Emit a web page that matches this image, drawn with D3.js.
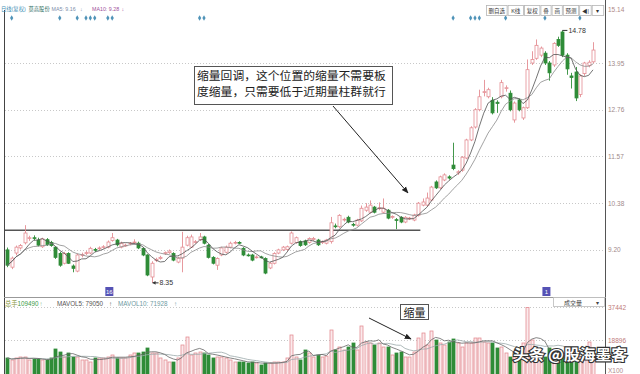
<!doctype html>
<html lang="zh">
<head>
<meta charset="utf-8">
<title>莫高股份 日线(复权)</title>
<style>
body{margin:0;background:#fff;}
svg{display:block;font-family:"Liberation Sans","Noto Sans CJK SC",sans-serif;}
</style>
<script src="https://d3js.org/d3.v7.min.js"></script>
</head>
<body>
<div id="chart"></div>
<script>
// daily candles (price units)
var opens = [9.19,8.75,9.11,9.24,9.37,9.48,9.50,9.44,9.27,9.45,9.38,9.26,9.10,8.85,9.10,8.78,8.65,9.05,9.10,9.11,
  9.20,9.22,9.25,9.26,9.43,9.44,9.26,9.30,9.35,9.38,9.36,9.23,9.06,8.50,8.92,8.97,9.10,9.12,9.10,8.88,
  8.98,9.31,9.26,9.38,9.45,9.52,9.31,9.00,8.80,9.06,9.13,9.26,9.36,9.38,9.23,9.06,9.06,9.00,9.01,8.97,
  8.73,8.85,9.11,9.19,9.20,9.36,9.38,9.40,9.42,9.38,9.45,9.44,9.38,9.36,9.40,9.80,9.78,9.95,10.02,9.84,
  9.82,9.93,10.20,10.15,10.28,10.24,10.15,10.20,10.02,9.96,10.02,9.90,9.98,9.95,10.07,10.33,10.33,10.46,10.92,10.77,
  10.97,11.05,11.35,11.15,11.22,11.53,11.99,12.32,12.76,13.20,13.09,13.00,12.95,13.09,13.30,13.18,12.50,13.01,12.55,12.81,
  13.95,14.07,14.15,14.20,13.95,13.90,14.55,14.74,14.15,13.62,13.72,13.15,13.68,13.88,13.98];
var highs = [9.25,9.02,9.30,9.34,9.82,9.55,9.56,9.50,9.50,9.49,9.42,9.28,9.14,9.14,9.13,8.82,9.10,9.12,9.16,9.27,
  9.24,9.28,9.31,9.43,9.62,9.47,9.40,9.35,9.39,9.46,9.40,9.25,9.08,8.90,8.99,9.04,9.15,9.20,9.13,9.02,
  9.65,9.55,9.58,9.44,9.62,9.55,9.34,9.03,9.00,9.27,9.30,9.40,9.42,9.41,9.26,9.10,9.09,9.05,9.04,9.00,
  8.88,9.13,9.22,9.29,9.30,9.66,9.53,9.43,9.45,9.51,9.52,9.47,9.43,9.47,10.03,9.86,10.10,10.01,10.06,9.88,
  9.98,10.32,10.38,10.45,10.31,10.40,10.50,10.23,10.07,10.00,10.05,10.05,10.03,10.11,10.41,10.50,10.65,10.82,10.96,11.08,
  11.14,11.09,11.92,11.22,11.58,12.02,12.34,12.80,13.27,13.52,13.32,13.08,13.00,13.52,13.38,13.25,12.97,13.05,12.84,14.04,
  14.25,14.55,14.37,14.25,14.00,14.48,14.62,14.78,14.20,13.70,13.85,13.66,13.98,14.02,14.48];
var lows = [8.75,8.70,9.05,9.20,9.33,9.42,9.44,9.28,9.24,9.29,9.27,8.96,8.76,8.82,8.83,8.62,8.62,9.00,9.06,9.08,
  9.14,9.18,9.22,9.23,9.40,9.28,9.23,9.27,9.31,9.34,9.21,9.03,8.52,8.35,8.88,8.94,9.06,9.09,8.90,8.85,
  8.62,9.28,9.24,9.35,9.42,9.33,8.97,8.82,8.68,9.03,9.10,9.23,9.33,9.34,9.03,9.02,8.90,8.97,8.97,8.57,
  8.70,8.82,9.08,9.16,9.17,9.33,9.35,9.27,9.29,9.35,9.42,9.29,9.34,9.33,9.35,9.74,9.75,9.91,9.87,9.78,
  9.79,9.90,10.16,10.12,10.12,10.20,10.12,9.97,9.98,9.72,9.87,9.87,9.95,9.92,10.04,10.30,10.30,10.43,10.74,10.74,
  10.94,10.98,11.22,11.10,11.18,11.50,11.96,12.28,12.72,13.10,13.05,12.64,12.68,13.05,13.22,12.72,12.43,12.72,12.50,12.78,
  13.90,14.03,14.10,13.90,13.50,13.85,14.36,14.10,13.65,13.30,12.98,13.08,13.62,13.84,13.94];
var closes = [8.80,8.98,9.26,9.30,9.62,9.50,9.48,9.31,9.47,9.32,9.30,9.00,8.80,9.10,8.85,8.72,9.06,9.07,9.12,9.23,
  9.18,9.24,9.27,9.39,9.50,9.32,9.36,9.31,9.36,9.39,9.24,9.06,8.55,8.85,8.95,9.00,9.12,9.16,8.93,8.98,
  9.26,9.50,9.52,9.40,9.52,9.36,9.00,8.85,8.97,9.24,9.26,9.36,9.38,9.37,9.06,9.05,8.93,9.01,9.00,8.60,
  8.85,9.10,9.19,9.26,9.27,9.62,9.50,9.30,9.32,9.48,9.48,9.32,9.40,9.44,9.88,9.78,10.07,9.97,9.90,9.82,
  9.95,10.25,10.28,10.33,10.15,10.26,10.25,10.00,10.04,9.94,9.90,10.02,10.00,10.08,10.38,10.41,10.51,10.79,10.77,11.05,
  11.10,11.02,11.26,11.18,11.55,11.99,12.30,12.76,13.09,13.22,13.27,12.68,12.92,13.45,13.32,12.76,12.93,12.76,12.81,13.78,
  14.04,14.40,14.33,13.95,13.70,14.45,14.40,14.15,13.80,13.58,13.06,13.62,13.95,13.97,14.28];
// volume in lots
var volumes = [9000,7870,9000,9550,9550,7870,8400,8400,7870,7870,9000,14050,12360,9550,11800,9550,9550,7870,7870,6740,
  9000,9000,9000,9550,10680,9000,9000,9000,10680,11800,11800,12360,14610,11800,11800,9000,7870,6740,6740,9000,
  16300,20790,10680,11800,12360,11800,10680,9000,9550,9550,9000,7870,6740,6740,6740,6180,6740,6180,5060,6180,
  6180,6740,6740,6740,9000,21920,9550,7870,13490,11800,9550,10680,9550,10100,24730,13490,15170,13490,15170,17420,
  13490,26980,17980,17420,16300,17420,15170,15170,10680,11800,12360,9550,9550,12360,20230,23040,16300,24170,19110,17420,
  16300,17980,19670,17420,15170,17420,17420,20230,20230,17980,17420,17420,14610,15170,11800,9550,9550,14610,17420,37442,
  19110,13490,12360,9550,14610,9550,13490,10680,9550,10680,9000,9550,9000,17980,9550];

var priceTicks = [13.95, 12.76, 11.57, 10.38, 9.20];
var topPrice = 15.14;
var volTicks = [37442, 18896];
var signalIdx = [1, 12, 16, 18, 19, 20, 23, 24, 44, 45, 102, 106, 107, 108, 114, 123, 131];
var dateMarks = [23, 123];
var dateLabels = ["16", "1"];
var supportPrice = 9.69, supportEnd = 94.5;
var highIdx = 127, lowIdx = 33;
var toolButtons = ["删自选", "K线", "复权", "叠", "画", "预测", "◀|", "▾"];

var upColor = "#e48d93", downColor = "#2f8c38";

var svg = d3.select("#chart").append("svg").attr("width", 640).attr("height", 374);
svg.append("rect").attr("width", 640).attr("height", 374).attr("fill", "#fff");

var N = closes.length;
var idx = d3.range(N);
var x = d3.scaleLinear().domain([0, N - 1]).range([7.3, 593]);
var y = d3.scaleLinear().domain([9.20, 13.95]).range([249.5, 63]);
var yv = d3.scaleLinear().domain([0, 37442]).range([374, 307.4]);

function movingAvg(vals, n) {
  return vals.map(function(v, i) { return d3.mean(vals.slice(Math.max(0, i - n + 1), i + 1)); });
}

// grid lines
svg.append("g").selectAll("line").data(priceTicks).join("line")
  .attr("x1", 5).attr("x2", 605)
  .attr("y1", function(d) { return Math.round(y(d)) + 0.5; })
  .attr("y2", function(d) { return Math.round(y(d)) + 0.5; })
  .attr("stroke", "#c8c8c8").attr("stroke-dasharray", "1,2");
svg.append("g").selectAll("line").data(volTicks).join("line")
  .attr("x1", 5).attr("x2", 605)
  .attr("y1", function(d) { return Math.round(yv(d)) + 0.5; })
  .attr("y2", function(d) { return Math.round(yv(d)) + 0.5; })
  .attr("stroke", "#c8c8c8").attr("stroke-dasharray", "1,2");

// axis labels
svg.append("g").selectAll("text").data(priceTicks).join("text")
  .attr("x", 608).attr("y", function(d) { return y(d) + 2.5; })
  .attr("font-size", 6.5).attr("fill", "#a08a8a")
  .text(function(d) { return d3.format(".2f")(d); });
svg.append("text").attr("x", 608).attr("y", 11.5).attr("font-size", 6.5).attr("fill", "#b08888")
  .text(d3.format(".2f")(topPrice));
svg.append("g").selectAll("text").data(volTicks).join("text")
  .attr("x", 608).attr("y", function(d) { return yv(d) + 2.3; })
  .attr("font-size", 6.5).attr("fill", "#c07a7a")
  .text(function(d) { return d; });
svg.append("text").attr("x", 608).attr("y", 372.5).attr("font-size", 6.5).attr("fill", "#b08a8a").text("X100");

// support line
svg.append("line")
  .attr("x1", 4).attr("x2", x(supportEnd))
  .attr("y1", y(supportPrice)).attr("y2", y(supportPrice))
  .attr("stroke", "#555").attr("stroke-width", 1.3);

// candles
var candles = svg.append("g");
candles.selectAll("line").data(idx).join("line")
  .attr("x1", function(i) { return Math.round(x(i)) + 0.5; })
  .attr("x2", function(i) { return Math.round(x(i)) + 0.5; })
  .attr("y1", function(i) { return y(highs[i]); })
  .attr("y2", function(i) { return y(lows[i]); })
  .attr("stroke", function(i) { return closes[i] >= opens[i] ? upColor : downColor; })
  .attr("stroke-width", 0.9);
candles.selectAll("rect").data(idx).join("rect")
  .attr("x", function(i) { return Math.round(x(i)) - 1; })
  .attr("width", 3)
  .attr("y", function(i) { return y(Math.max(opens[i], closes[i])); })
  .attr("height", function(i) { return Math.max(0.8, Math.abs(y(opens[i]) - y(closes[i]))); })
  .attr("fill", function(i) { return closes[i] >= opens[i] ? "#fff" : downColor; })
  .attr("stroke", function(i) { return closes[i] >= opens[i] ? upColor : downColor; })
  .attr("stroke-width", 0.8);

// moving averages
var ma5 = movingAvg(closes, 5), ma10 = movingAvg(closes, 10);
var priceLine = d3.line().x(function(d, i) { return x(i); }).y(function(d) { return y(d); });
svg.append("path").attr("d", priceLine(ma10)).attr("fill", "none").attr("stroke", "#8a8a8a").attr("stroke-width", 0.8);
svg.append("path").attr("d", priceLine(ma5)).attr("fill", "none").attr("stroke", "#505050").attr("stroke-width", 0.8);

// high / low labels
svg.append("line").attr("x1", x(highIdx)).attr("x2", x(highIdx) + 5)
  .attr("y1", y(highs[highIdx])).attr("y2", y(highs[highIdx])).attr("stroke", "#333");
svg.append("text").attr("x", x(highIdx) + 6).attr("y", y(highs[highIdx]) + 2.5)
  .attr("font-size", 7).attr("fill", "#333").text(d3.format(".2f")(highs[highIdx]));
svg.append("line").attr("x1", x(lowIdx) + 1).attr("x2", x(lowIdx) + 7)
  .attr("y1", y(lows[lowIdx])).attr("y2", y(lows[lowIdx])).attr("stroke", "#333");
svg.append("path")
  .attr("d", "M" + (x(lowIdx) + 1) + "," + y(lows[lowIdx]) + "l3,-1.8v3.6z").attr("fill", "#333");
svg.append("text").attr("x", x(lowIdx) + 8).attr("y", y(lows[lowIdx]) + 2.5)
  .attr("font-size", 7).attr("fill", "#333").text(d3.format(".2f")(lows[lowIdx]));

// signal diamonds on top row
svg.append("g").selectAll("path").data(signalIdx).join("path")
  .attr("transform", function(i) { return "translate(" + x(i) + ",18)"; })
  .attr("d", d3.symbol().type(d3.symbolDiamond).size(9))
  .attr("fill", "#4f93b8");

// volume bars
var vbars = svg.append("g");
vbars.selectAll("rect").data(idx).join("rect")
  .attr("x", function(i) { return Math.round(x(i)) - 1; })
  .attr("width", 3)
  .attr("y", function(i) { return yv(volumes[i]); })
  .attr("height", function(i) { return 374 - yv(volumes[i]) + 2; })
  .attr("fill", function(i) { return closes[i] >= opens[i] ? "#fbeaec" : downColor; })
  .attr("stroke", function(i) { return closes[i] >= opens[i] ? upColor : downColor; })
  .attr("stroke-width", 0.8);
var mv5 = movingAvg(volumes, 5), mv10 = movingAvg(volumes, 10);
var volLine = d3.line().x(function(d, i) { return x(i); }).y(function(d) { return yv(d); });
svg.append("path").attr("d", volLine(mv10)).attr("fill", "none").attr("stroke", "#9aa8aa").attr("stroke-width", 0.8);
svg.append("path").attr("d", volLine(mv5)).attr("fill", "none").attr("stroke", "#666").attr("stroke-width", 0.8);

// frames
svg.append("line").attr("x1", 4.5).attr("x2", 4.5).attr("y1", 10).attr("y2", 374).attr("stroke", "#444");
svg.append("line").attr("x1", 605.5).attr("x2", 605.5).attr("y1", 0).attr("y2", 374).attr("stroke", "#555");
svg.append("line").attr("x1", 4).attr("x2", 606).attr("y1", 297.5).attr("y2", 297.5).attr("stroke", "#999");

// date marks
var dm = svg.append("g").selectAll("g").data(dateMarks).join("g")
  .attr("transform", function(i) { return "translate(" + (x(i) - 2.5) + ",287)"; });
dm.append("rect").attr("width", 8).attr("height", 9).attr("fill", "#5552b5");
dm.append("text").attr("x", 4).attr("y", 7).attr("text-anchor", "middle")
  .attr("font-size", 6).attr("fill", "#fff").text(function(d, k) { return dateLabels[k]; });

// header
var header = [
  {t: "日线(复权)", c: "#3f8fb5", dx: 1},
  {t: "莫高股份", c: "#2e6e62", dx: 28.5},
  {t: "MA5: 9.16", c: "#7d8ca8", dx: 51.5},
  {t: "↓", c: "#7d8ca8", dx: 80},
  {t: "MA10: 9.28", c: "#a0509a", dx: 92},
  {t: "↓", c: "#a0509a", dx: 121.5}
];
svg.append("g").selectAll("text").data(header).join("text")
  .attr("x", function(d) { return d.dx; }).attr("y", 10.5)
  .attr("font-size", 5.3).attr("fill", function(d) { return d.c; })
  .text(function(d) { return d.t; });

var vheader = [
  {t: "总手", c: "#8d9a46", dx: 5},
  {t: "109490", c: "#3a9a44", dx: 17.5},
  {t: "↑", c: "#8fc090", dx: 39.5},
  {t: "MAVOL5: 79050", c: "#555", dx: 57},
  {t: "↑", c: "#555", dx: 109},
  {t: "MAVOL10: 71928", c: "#6d9aa2", dx: 118},
  {t: "↑", c: "#6d9aa2", dx: 174}
];
svg.append("g").selectAll("text").data(vheader).join("text")
  .attr("x", function(d) { return d.dx; }).attr("y", 305.5)
  .attr("font-size", 6.3).attr("fill", function(d) { return d.c; })
  .text(function(d) { return d.t; });

// toolbar buttons
var bx = 486;
var tb = svg.append("g");
toolButtons.forEach(function(label, k) {
  var w = k < 6 ? label.length * 5.2 + 6 : 12.5;
  tb.append("rect").attr("x", bx + 0.5).attr("y", 5.5).attr("width", w - 1).attr("height", 10)
    .attr("fill", "#fff").attr("stroke", "#b5b5b5").attr("stroke-width", 0.8);
  tb.append("text").attr("x", bx + w / 2).attr("y", 12.8).attr("text-anchor", "middle")
    .attr("font-size", 5.5).attr("fill", "#333").text(label);
  bx += w;
});

// volume selector
svg.append("rect").attr("x", 553.5).attr("y", 297.5).attr("width", 51).attr("height", 9)
  .attr("fill", "#fff").attr("stroke", "#bbb").attr("stroke-width", 0.8);
svg.append("text").attr("x", 573).attr("y", 304.5).attr("text-anchor", "middle")
  .attr("font-size", 6).attr("fill", "#444").text("成交量");
svg.append("text").attr("x", 597).attr("y", 304.5).attr("text-anchor", "middle")
  .attr("font-size", 6).attr("fill", "#444").text("▾");

// annotations
var defs = svg.append("defs");
defs.append("marker").attr("id", "arr").attr("viewBox", "0 0 10 10")
  .attr("refX", 9).attr("refY", 5).attr("markerWidth", 7).attr("markerHeight", 7)
  .attr("orient", "auto")
  .append("path").attr("d", "M0,1L10,5L0,9z").attr("fill", "#222");

svg.append("rect").attr("x", 194.5).attr("y", 66.5).attr("width", 198).attr("height", 38)
  .attr("fill", "#fff").attr("stroke", "#555").attr("stroke-width", 1);
var note = ["缩量回调，这个位置的缩量不需要板", "度缩量，只需要低于近期量柱群就行"];
svg.append("g").selectAll("text").data(note).join("text")
  .attr("x", 197).attr("y", function(d, k) { return 79.5 + k * 16; })
  .attr("font-family", "Noto Sans CJK SC").attr("font-size", 11.8).attr("fill", "#222")
  .text(function(d) { return d; });
svg.append("line").attr("x1", 333).attr("y1", 106).attr("x2", 408).attr("y2", 193)
  .attr("stroke", "#222").attr("stroke-width", 1).attr("marker-end", "url(#arr)");

svg.append("rect").attr("x", 400.5).attr("y", 304.5).attr("width", 28).attr("height", 15)
  .attr("fill", "#fff").attr("stroke", "#555").attr("stroke-width", 1);
svg.append("text").attr("x", 414.5).attr("y", 316.5).attr("text-anchor", "middle")
  .attr("font-family", "Noto Sans CJK SC").attr("font-size", 11).attr("fill", "#222").text("缩量");
svg.append("line").attr("x1", 369).attr("y1", 318).attr("x2", 411).attr("y2", 339)
  .attr("stroke", "#222").attr("stroke-width", 1).attr("marker-end", "url(#arr)");

// watermark
svg.append("text").attr("x", 513).attr("y", 360)
  .attr("font-family", "Noto Sans CJK SC").attr("font-size", 14.5).attr("font-weight", "bold")
  .attr("textLength", 114).attr("lengthAdjust", "spacingAndGlyphs")
  .attr("fill", "#fff").attr("stroke", "#333").attr("stroke-width", 2.2)
  .attr("paint-order", "stroke").text("头条 @股海墨客");
</script>
</body>
</html>
